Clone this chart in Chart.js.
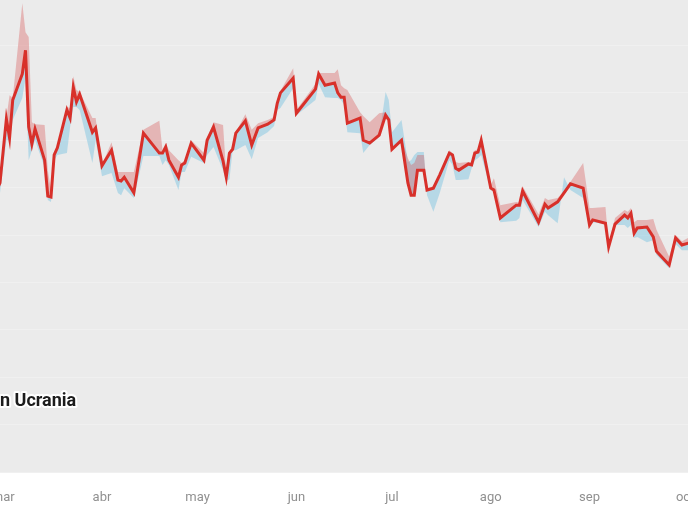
<!DOCTYPE html>
<html lang="es">
<head>
<meta charset="utf-8">
<title>Evolución del precio</title>
<script src="https://cdn.jsdelivr.net/npm/chart.js@4.4.1/dist/chart.umd.min.js"></script>
<style>
    html, body { margin: 0; padding: 0; background: #fff; overflow: hidden; }
    /* el lienzo es más ancho que la ventana: el gráfico original está recortado */
    #wrap { position: absolute; left: -40px; top: 0; width: 768px; height: 516px; }
</style>
</head>
<body>
<div id="wrap"><canvas id="grafico"></canvas></div>
<script>
// días contados desde el 1 de marzo
const dias = [
    -2, -1, 1, 2, 3, 6, 7, 8, 9, 10, 13, 14, 15, 16, 17, 20, 21, 22, 23, 24,
    28, 29, 31, 34, 36, 37, 38, 41, 44, 49, 50, 51, 52, 55, 56, 57, 59, 63, 64, 66,
    69, 70, 71, 72, 73, 76, 78, 80, 83, 85, 86, 87, 91, 92, 98, 99, 101, 104, 105, 106,
    107, 108, 112, 113, 115, 118, 120, 121, 122, 125, 127, 128, 129, 130, 132, 133, 135, 137, 140, 141,
    142, 143, 146, 147, 148, 149, 150, 153, 154, 156, 161, 162, 163, 168, 170, 171, 174, 176, 178, 182,
    184, 185, 189, 190, 192, 195, 196, 197, 198, 199, 202, 204, 205, 209, 211, 213, 215, 216
];
const precio = [
    59.5, 61.0, 74.5, 70.5, 78.5, 84.0, 89.0, 72.8, 69.2, 72.4, 65.8, 58.2, 58.0, 66.9, 68.4, 76.4, 74.7, 81.2, 78.1, 79.7,
    71.7, 72.6, 64.6, 67.9, 61.6, 61.4, 62.2, 58.9, 71.5, 67.3, 67.3, 68.6, 65.8, 62.2, 64.8, 65.2, 69.4, 65.8, 70.0, 72.8,
    65.6, 62.2, 67.3, 68.1, 71.5, 74.1, 69.0, 72.6, 73.4, 74.3, 77.8, 80.0, 83.1, 75.7, 80.8, 84.0, 81.6, 82.1, 80.0, 79.1,
    79.1, 73.6, 74.7, 70.0, 69.4, 71.1, 75.3, 74.3, 68.1, 70.0, 61.0, 58.4, 58.4, 63.7, 63.7, 59.5, 59.9, 62.7, 67.3, 66.9,
    64.1, 63.7, 65.0, 64.8, 67.3, 67.5, 70.0, 59.9, 59.5, 53.6, 56.3, 56.3, 59.3, 52.7, 56.5, 55.7, 57.0, 58.9, 60.8, 59.9,
    52.1, 53.2, 52.5, 47.5, 52.3, 54.2, 53.6, 54.6, 50.4, 51.5, 51.7, 49.6, 46.6, 43.7, 49.4, 47.9, 48.3, 48.5
];
const bandaRoja = [
    59.5, 61.2, 74.7, 79.5, 78.9, 98.9, 92.8, 91.8, 73.8, 73.4, 73.2, 63.7, 59.5, 67.3, 68.6, 77.0, 76.8, 83.5, 80.6, 80.2,
    74.7, 74.7, 64.8, 69.6, 63.3, 63.3, 63.3, 63.3, 72.2, 74.1, 67.9, 69.4, 67.9, 65.8, 65.2, 65.8, 70.0, 67.3, 70.5, 73.8,
    73.2, 62.9, 67.5, 69.0, 71.7, 75.5, 72.2, 73.6, 74.3, 74.9, 78.5, 80.4, 85.2, 76.4, 81.9, 84.2, 84.2, 84.2, 85.0, 81.6,
    81.0, 80.6, 75.9, 75.1, 73.8, 75.7, 75.9, 74.7, 68.6, 70.5, 66.2, 64.8, 65.2, 66.9, 66.9, 59.9, 60.3, 63.1, 67.9, 67.3,
    65.4, 65.2, 65.4, 65.4, 67.9, 68.1, 70.5, 60.5, 62.0, 56.3, 57.0, 56.8, 60.3, 54.4, 57.8, 57.4, 57.8, 59.3, 61.2, 65.2,
    55.7, 55.7, 55.9, 47.9, 53.6, 55.3, 54.9, 55.7, 52.7, 53.2, 53.2, 53.4, 51.1, 45.4, 50.0, 48.7, 49.4, 49.4
];
const bandaAzul = [
    57.8, 58.9, 70.0, 70.0, 74.3, 78.9, 83.1, 65.8, 67.9, 70.0, 64.3, 57.4, 57.0, 65.8, 66.9, 67.3, 72.8, 77.0, 77.0, 76.4,
    65.2, 70.0, 62.4, 63.1, 58.9, 58.4, 59.9, 57.8, 66.7, 66.7, 64.8, 65.8, 64.8, 59.5, 63.3, 63.3, 66.5, 65.2, 66.9, 68.6,
    63.7, 61.4, 61.8, 67.9, 67.9, 69.0, 66.0, 70.5, 71.7, 73.0, 76.4, 76.8, 81.0, 75.3, 78.5, 81.9, 79.1, 78.9, 78.9, 78.5,
    77.5, 71.7, 71.5, 67.3, 69.0, 70.7, 80.2, 78.5, 71.7, 74.3, 65.4, 65.8, 66.9, 67.5, 67.5, 58.4, 54.9, 58.9, 65.8, 64.8,
    61.6, 61.6, 61.8, 64.1, 65.8, 66.2, 66.9, 59.5, 59.1, 52.7, 53.0, 53.6, 57.4, 51.7, 54.9, 54.2, 52.5, 62.2, 59.5, 57.8,
    51.9, 52.7, 52.3, 47.0, 52.1, 52.1, 51.5, 52.1, 49.4, 49.6, 48.5, 48.9, 45.8, 43.0, 48.1, 46.8, 46.8, 47.0
];

const mesesTicks = [0, 31, 61, 92, 122, 153, 184, 214];
const mesesNombres = ['mar', 'abr', 'may', 'jun', 'jul', 'ago', 'sep', 'oct'];
const lineasY = [0, 10, 20, 30, 40, 50, 60, 70, 80, 90];

function puntos(valores) {
    return dias.map((d, i) => ({ x: d, y: valores[i] }));
}

// fondo gris del área de trazado
const fondoGris = {
    id: 'fondoGris',
    beforeDraw(chart) {
        const { ctx, chartArea: a } = chart;
        ctx.save();
        ctx.fillStyle = '#ebebeb';
        ctx.fillRect(a.left, a.top, a.right - a.left, a.bottom - a.top);
        ctx.restore();
    }
};

// rótulo de la invasión (cortado por el borde izquierdo)
const rotulo = {
    id: 'rotulo',
    afterDatasetsDraw(chart) {
        const { ctx, chartArea: a } = chart;
        ctx.save();
        ctx.font = 'bold 18px Roboto, "Noto Sans", sans-serif';
        ctx.textAlign = 'left';
        ctx.textBaseline = 'middle';
        ctx.lineJoin = 'round';
        ctx.lineWidth = 4;
        ctx.strokeStyle = '#ffffff';
        ctx.strokeText('n Ucrania', a.left, 401);
        ctx.fillStyle = '#1c1c1c';
        ctx.fillText('n Ucrania', a.left, 401);
        ctx.restore();
    }
};

new Chart(document.getElementById('grafico'), {
    type: 'line',
    data: {
        datasets: [
            {
                label: 'Precio',
                data: puntos(precio),
                borderColor: '#d8302a',
                borderWidth: 3,
                pointRadius: 0,
                tension: 0,
                fill: false
            },
            {
                label: 'Banda superior',
                data: puntos(bandaRoja),
                borderWidth: 0,
                pointRadius: 0,
                tension: 0,
                backgroundColor: 'rgba(214, 80, 80, 0.35)',
                fill: { target: 0 }
            },
            {
                label: 'Banda inferior',
                data: puntos(bandaAzul),
                borderWidth: 0,
                pointRadius: 0,
                tension: 0,
                backgroundColor: 'rgba(110, 190, 225, 0.42)',
                fill: { target: 0 }
            }
        ]
    },
    options: {
        responsive: true,
        maintainAspectRatio: false,
        animation: false,
        layout: { padding: { left: 40, right: 40, top: 0, bottom: 0 } },
        plugins: {
            legend: { display: false },
            tooltip: { enabled: false }
        },
        scales: {
            x: {
                type: 'linear',
                min: -1.0,
                max: 214.9,
                afterBuildTicks: (scale) => { scale.ticks = mesesTicks.map(v => ({ value: v })); },
                afterFit: (scale) => { scale.height = 44; },
                grid: { display: false },
                border: { display: false },
                ticks: {
                    autoSkip: false,
                    maxRotation: 0,
                    padding: 10,
                    color: '#909090',
                    font: { size: 13, family: 'Roboto, "Noto Sans", sans-serif' },
                    callback: (v, i) => mesesNombres[i]
                }
            },
            y: {
                min: 0,
                max: 99.6,
                afterBuildTicks: (scale) => { scale.ticks = lineasY.map(v => ({ value: v })); },
                afterFit: (scale) => { scale.width = 0; },
                grid: { color: '#f0f0f0', lineWidth: 1, drawTicks: false },
                border: { display: false },
                ticks: { display: false }
            }
        }
    },
    plugins: [fondoGris, rotulo]
});
</script>
</body>
</html>
